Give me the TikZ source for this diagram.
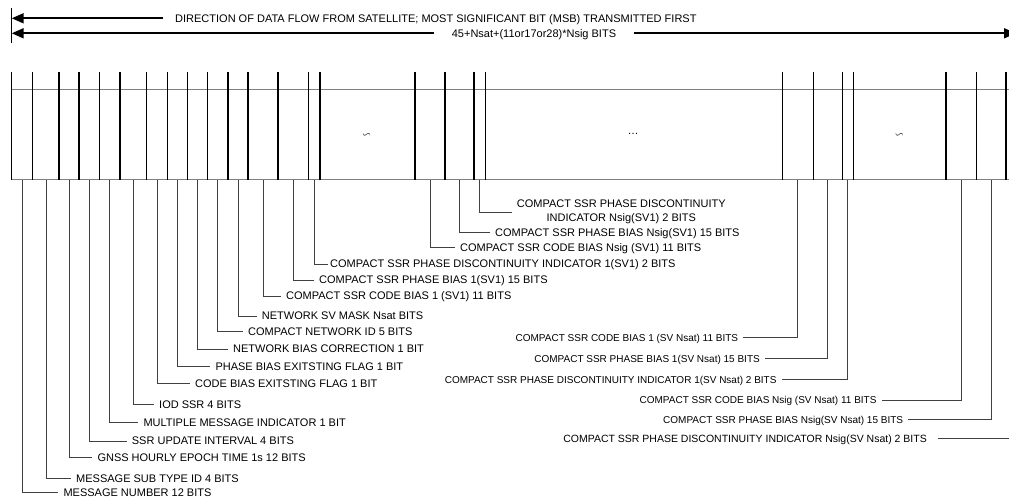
\documentclass[tikz,border=0pt]{standalone}
\usepackage{fontspec}
\setmainfont{Liberation Sans}
\usepackage{amssymb}
\usetikzlibrary{arrows.meta}
\begin{document}
\begin{tikzpicture}[
 x=1pt,y=-1pt,
 flow/.style={line width=1.8pt,-{Triangle[length=12pt,width=10pt]}},
 divider/.style={line width=1.3pt},
 frame/.style={line width=1pt,draw=black!50},
 lead/.style={line width=.7pt,draw=black!75},
 lbl/.style={anchor=west,inner xsep=5pt,inner ysep=0pt,text height=7.9pt,text depth=0pt},
 rlbl/.style={lbl,anchor=east,font=\fontsize{10}{13}\selectfont},
 every node/.style={font=\fontsize{11}{14}\selectfont}]
 \useasboundingbox (0,0) rectangle (1009,497);
 % Direction of data flow and total message length.
 \coordinate (bar) at (11,8); \coordinate (barend) at (11,43);
 \draw[line width=1pt] (bar)--(barend);
 \coordinate (dirtip) at (11.7,18.3);
 \coordinate (lentipl) at (11.7,33.3); \coordinate (lentipr) at (1016,33.3);
 \node[lbl,inner xsep=12pt] (dir) at (163,18.3)
  {DIRECTION OF DATA FLOW FROM SATELLITE; MOST SIGNIFICANT BIT (MSB) TRANSMITTED FIRST};
 \node[lbl,anchor=center,inner xsep=18pt] (len) at (534,33.3) {45+Nsat+(11or17or28)*Nsig BITS};
 \draw[flow] (dir.west)--(dirtip);
 \draw[flow] (len.west)--(lentipl);
 \draw[flow] (len.east)--(lentipr);
 % Message frame.
 \draw[frame] (11.7,90)--(1040,90);
 \draw[frame] (11.7,180)--(1040,180);
 \foreach \x in {11.7,32.7,59,79,99.3,120,146.7,167.3,187.3,207.3,228,248,278,
                 308.7,320,415,445,474,485.3,782.3,813.3,842.3,853.3,946,976.7,1006}{
   \draw[divider] (\x,72)--(\x,180);
 }
 \node (gapa) at (366.7,135) {$\backsim$};
 \node (dots) at (633,134) {\dots};
 \node (gapb) at (899.3,135) {$\backsim$};
 % Field midpoints on the lower edge.
 \foreach \n/\x in {1/22.2,2/45.9,3/69,4/89.2,5/109.7,6/133.3,7/157,8/177.3,9/197.3,
                    10/217.7,11/238,12/263,13/293.3,14/314.3,15/430,16/459.5,17/479.7,
                    18/797.8,19/827.8,20/847.8,21/961.3,22/991.3,23/1021}{
   \coordinate (f\n) at (\x,180);
 }
 % Field labels.
 \node[lbl] (l1) at (58.3,492.3) {MESSAGE NUMBER 12 BITS};
 \node[lbl] (l2) at (71,478.3) {MESSAGE SUB TYPE ID 4 BITS};
 \node[lbl] (l3) at (92.3,457.3) {GNSS HOURLY EPOCH TIME 1s 12 BITS};
 \node[lbl] (l4) at (126.7,441) {SSR UPDATE INTERVAL 4 BITS};
 \node[lbl] (l5) at (138.3,422.7) {MULTIPLE MESSAGE INDICATOR 1 BIT};
 \node[lbl] (l6) at (154,404.3) {IOD SSR 4 BITS};
 \node[lbl] (l7) at (190,383.3) {CODE BIAS EXITSTING FLAG 1 BIT};
 \node[lbl] (l8) at (210.3,366.7) {PHASE BIAS EXITSTING FLAG 1 BIT};
 \node[lbl] (l9) at (228,349) {NETWORK BIAS CORRECTION 1 BIT};
 \node[lbl] (l10) at (243,331.7) {COMPACT NETWORK ID 5 BITS};
 \node[lbl] (l11) at (256.7,316) {NETWORK SV MASK Nsat BITS};
 \node[lbl] (l12) at (281,296) {COMPACT SSR CODE BIAS 1 (SV1) 11 BITS};
 \node[lbl] (l13) at (314,280) {COMPACT SSR PHASE BIAS 1(SV1) 15 BITS};
 \node[lbl,inner xsep=2pt] (l14) at (328,264) {COMPACT SSR PHASE DISCONTINUITY INDICATOR 1(SV1) 2 BITS};
 \node[lbl] (l15) at (455,247.3) {COMPACT SSR CODE BIAS Nsig (SV1) 11 BITS};
 \node[lbl] (l16) at (490,232.7) {COMPACT SSR PHASE BIAS Nsig(SV1) 15 BITS};
 \node[anchor=west,inner xsep=5pt,inner ysep=0pt,align=center] (l17) at (511.7,212)
  {COMPACT SSR PHASE DISCONTINUITY\\INDICATOR Nsig(SV1) 2 BITS};
 \node[rlbl] (l18) at (743.3,337.3) {COMPACT SSR CODE BIAS 1 (SV Nsat) 11 BITS};
 \node[rlbl] (l19) at (765,358.3) {COMPACT SSR PHASE BIAS 1(SV Nsat) 15 BITS};
 \node[rlbl] (l20) at (781.7,379.3) {COMPACT SSR PHASE DISCONTINUITY INDICATOR 1(SV Nsat) 2 BITS};
 \node[rlbl] (l21) at (881.7,400) {COMPACT SSR CODE BIAS Nsig (SV Nsat) 11 BITS};
 \node[rlbl] (l22) at (908.3,419.3) {COMPACT SSR PHASE BIAS Nsig(SV Nsat) 15 BITS};
 \node[rlbl,inner xsep=11pt,font=\fontsize{10.5}{13}\selectfont] (l23) at (938,438.3)
  {COMPACT SSR PHASE DISCONTINUITY INDICATOR Nsig(SV Nsat) 2 BITS};
 \foreach \n in {1,...,23}{
   \draw[lead] (f\n) |- (l\n);
 }
\end{tikzpicture}
\end{document}
